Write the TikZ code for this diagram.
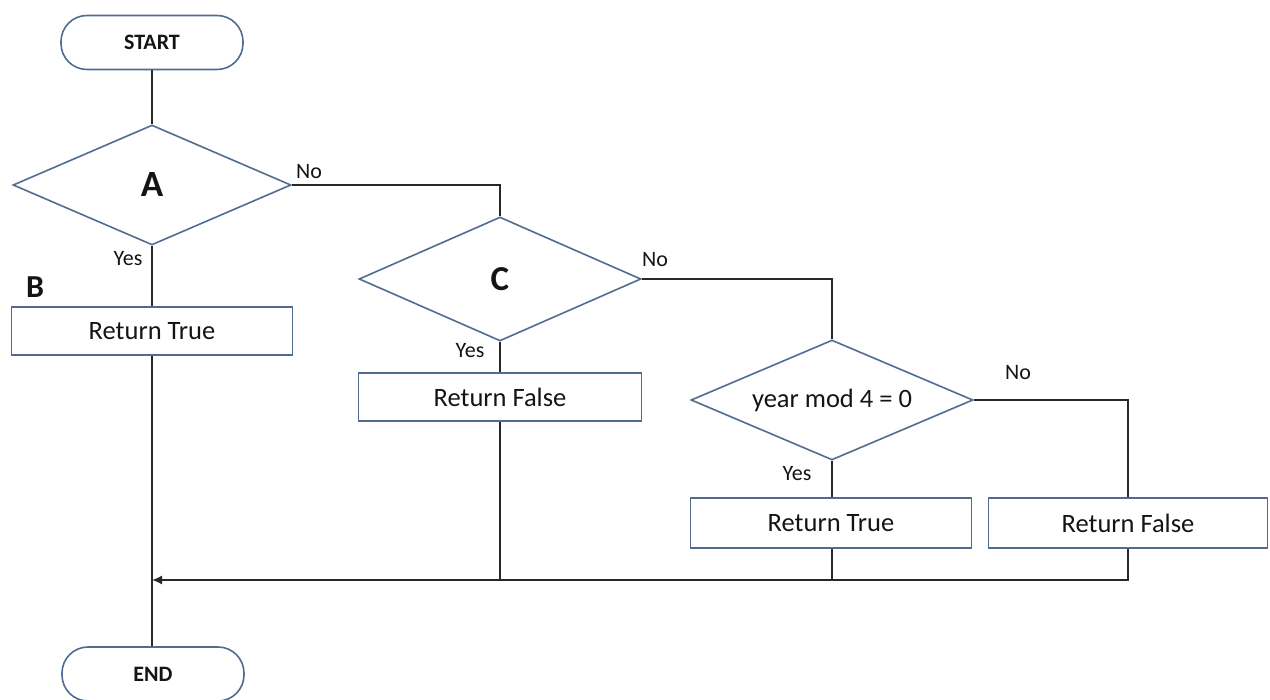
\documentclass[tikz,border=0pt]{standalone}
\usepackage{fontspec}
\setmainfont{Carlito}
\usetikzlibrary{shapes.geometric,arrows.meta}
\definecolor{shapeblue}{RGB}{80,108,145}
\definecolor{linegray}{RGB}{40,40,40}
\definecolor{txt}{RGB}{20,20,20}
\tikzset{
  terminal/.style={draw=shapeblue, line width=1.6pt, rounded corners=26pt, minimum width=182pt, minimum height=54pt, inner sep=0pt, text=txt, font=\fontsize{22}{24}\selectfont\bfseries},
  decision/.style={diamond, aspect=2.35, draw=shapeblue, line width=1.6pt, inner sep=0pt, text=txt},
  procbox/.style={draw=shapeblue, line width=1.6pt, minimum width=281pt, minimum height=48pt, inner sep=0pt, text=txt, font=\fontsize{26.5}{29}\selectfont},
  conn/.style={draw=linegray, line width=1.6pt},
  lbl/.style={text=txt, font=\fontsize{22}{24}\selectfont, inner sep=0pt},
  biglbl/.style={text=txt, font=\fontsize{34}{38}\selectfont\bfseries, inner sep=0pt}
}
\begin{document}
\begin{tikzpicture}[x=1pt,y=-1pt]
\useasboundingbox (0,0) rectangle (1270,700);
\node[terminal] (start) at (152,42.5) {START};
\node[decision, minimum width=278pt, minimum height=120pt, font=\fontsize{37}{40}\selectfont\bfseries] (A) at (152,185) {A};
\node[procbox] (rt1) at (152,331) {Return True};
\node[biglbl, font=\fontsize{32}{34}\selectfont\bfseries] (B) at (35,287) {B};
\node[decision, minimum width=282pt, minimum height=124pt, font=\fontsize{35}{38}\selectfont\bfseries] (C) at (500,279) {C};
\node[procbox, minimum width=283pt] (rf1) at (500,397) {Return False};
\node[decision, minimum width=282pt, minimum height=120pt, font=\fontsize{26.5}{29}\selectfont] (D) at (832,400) {year mod 4 = 0};
\node[procbox, minimum height=50pt] (rt2) at (831,523) {Return True};
\node[procbox, minimum width=279pt, minimum height=50pt] (rf2) at (1128,523) {Return False};
\node[terminal] (endn) at (153,674) {END};

\node[lbl] (noA) at (309,172) {No};
\node[lbl] (yesA) at (128,259) {Yes};
\node[lbl] (noC) at (655,260) {No};
\node[lbl] (yesC) at (470,351) {Yes};
\node[lbl] (noD) at (1018,373) {No};
\node[lbl] (yesD) at (797,474) {Yes};

\coordinate (bus) at (152,580);

\draw[conn] (start) -- (A);
\draw[conn] (A.east) -| (C.north);
\draw[conn] (A.south) -- (rt1.north -| A.south);
\draw[conn] (rt1.south -| A.south) -- (endn.north -| A.south);
\draw[conn] (C.east) -| (D.north);
\draw[conn] (C.south) -- (rf1.north);
\draw[conn] (D.south) -- (D.south |- rt2.north);
\draw[conn] (D.east) -| (rf2.north);
\draw[conn] (rf1.south) -- (rf1.south |- bus);
\draw[conn] (D.south |- rt2.south) -- (D.south |- bus);
\draw[conn, -{Latex[length=10pt,width=9pt]}] (rf2.south) -- (rf2.south |- bus) -- (bus);
\end{tikzpicture}
\end{document}
